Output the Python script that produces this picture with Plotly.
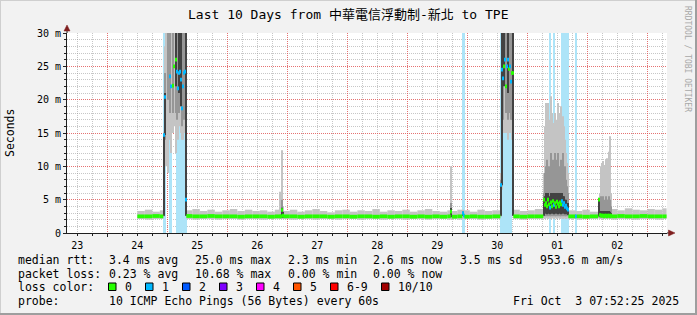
import pandas as pd
import plotly.graph_objects as go

# ---------------- data ----------------
t0 = pd.Timestamp("2025-09-24 00:00:00")          # reference for hour offsets
range_start = "2025-09-23 07:52:25"
range_end = "2025-10-03 07:52:25"
data_end_hour = 223.7

# baseline samples (no loss): hour offset, smoke min, median, smoke max (ms)
base_hours = [12.0, 15.0, 18.0, 21.0,
              31.6, 34.0, 37.0, 40.0, 43.0, 46.0, 49.0, 52.0, 55.0, 58.0, 61.0, 64.0, 67.0,
              70.4, 73.0, 76.0, 79.0, 82.0, 85.0, 88.0, 91.0, 94.0, 97.0, 100.0, 103.0, 106.0,
              109.0, 112.0, 115.0, 118.0, 121.0, 124.0, 127.0, 130.0, 133.0, 136.0,
              137.8, 140.0,
              142.8, 145.0, 148.0, 151.0, 154.0,
              162.4, 165.0, 168.0, 171.0,
              184.4, 187.8, 190.0, 193.0,
              201.6, 204.0, 207.0, 210.0, 213.0, 216.0, 219.0, 222.0]
base_lo = [2.1, 2.0, 2.1, 2.1,
           2.1, 2.0, 2.1, 2.1, 2.0, 2.1, 2.1, 2.0, 2.1, 2.1, 2.0, 2.1, 2.1,
           2.1, 2.0, 2.1, 2.1, 2.0, 2.1, 2.1, 2.0, 2.1, 2.1, 2.0, 2.1, 2.1,
           2.0, 2.1, 2.1, 2.0, 2.1, 2.1, 2.0, 2.1, 2.1, 2.0,
           2.1, 2.0,
           2.1, 2.1, 2.0, 2.1, 2.1,
           2.1, 2.0, 2.1, 2.1,
           2.1, 2.0, 2.1, 2.1,
           2.0, 2.1, 2.1, 2.0, 2.1, 2.1, 2.0, 2.1]
base_med = [2.5, 2.5, 2.55, 2.5,
            2.55, 2.5, 2.5, 2.55, 2.5, 2.5, 2.5, 2.45, 2.5, 2.5, 2.5, 2.45, 2.5,
            2.5, 2.5, 2.45, 2.5, 2.5, 2.5, 2.45, 2.5, 2.5, 2.45, 2.5, 2.5, 2.45,
            2.5, 2.45, 2.5, 2.5, 2.45, 2.5, 2.45, 2.5, 2.45, 2.5,
            2.45, 2.5,
            2.45, 2.5, 2.45, 2.45, 2.5,
            2.5, 2.45, 2.5, 2.5,
            2.5, 2.5, 2.45, 2.5,
            2.5, 2.55, 2.5, 2.5, 2.55, 2.5, 2.5, 2.5]
base_hi = [3.3, 3.5, 3.2, 3.4,
           3.4, 3.6, 3.3, 3.5, 3.2, 3.4, 3.6, 3.3, 3.5, 3.3, 3.4, 3.2, 3.5,
           3.3, 3.5, 3.2, 3.4, 3.6, 3.3, 3.1, 3.4, 3.5, 3.2, 3.4, 3.3, 3.6,
           3.2, 3.4, 3.3, 3.5, 3.2, 3.4, 3.6, 3.3, 3.2, 3.4,
           3.3, 3.5,
           3.4, 3.2, 3.5, 3.3, 3.4,
           3.5, 3.3, 3.4, 3.6,
           3.4, 3.3, 3.5, 3.2,
           3.6, 3.4, 3.7, 3.5, 3.4, 3.6, 3.5, 3.7]

# event samples: hour offset, smoke bands (outer lo/hi, mid lo/hi, dark lo/hi), median, lost pings
ev_hours = [22.4, 22.8, 23.2, 23.6, 24.0, 24.4, 24.8, 25.2, 25.6, 26.0, 26.4, 26.8, 27.2, 27.6, 28.0, 28.4, 28.8, 29.2, 29.6, 30.0, 30.4, 30.8, 31.2,
            68.8, 69.2, 69.6, 70.0,
            137.4, 142.0, 142.4,
            157.2, 157.6, 158.0, 158.4, 158.8, 159.2, 159.6, 160.0, 160.4, 160.8, 161.2, 161.6, 162.0,
            174.4, 174.8, 175.2, 175.6, 176.0, 176.4, 176.8, 177.2, 177.6, 178.0, 178.4, 178.8, 179.2, 179.6, 180.0, 180.4, 180.8, 181.2, 181.6, 182.0, 182.4, 182.8, 183.2, 183.6, 184.0,
            187.4,
            196.4, 196.8, 197.2, 197.6, 198.0, 198.4, 198.8, 199.2, 199.6, 200.0, 200.4, 200.8, 201.2]
ev_lo = [2.5, 12, 10, None, 9, None, 14, 12, None, 15, 16, None, 12, 15, 14, 16, 18, 15, 14, 14, 15, 15, 2.5,
         2.1, 2.1, 2.2, 2.1,
         2.1, 2.1, 2.1,
         2.5, 6.5, 15, 16, 15, 16, 15, 14, 15, 16, 15, 14, 2.5,
         2.2, 2.1, 2.2, 2.2, 2.1, 2.2, 2.2, 2.1, 2.2, 2.2, 2.1, 2.2, 2.2, 2.1, 2.2, 2.2, 2.1, 2.2, 2.2, 2.1, 2.2, 2.2, 2.1, 2.2, 2.2,
         2.1,
         2.3, 2.1, 2.1, 2.2, 2.1, 2.1, 2.2, 2.1, 2.1, 2.2, 2.1, 2.1, 2.1]
ev_mlo = [2.5, 14, None, None, 20, None, 18, None, None, 18, None, None, 18, 17, None, 18, 19, None, 16, 17, None, 17, 2.6,
          None, None, 2.3, None,
          2.3, None, None,
          2.5, 7, 17, None, None, 18, None, 17, 18, None, 17, 17, 2.6,
          2.5, 2.6, 2.5, 2.6, 2.5, 2.6, 2.5, 2.5, 2.6, 2.5, 2.6, 2.5, 2.5, 2.6, 2.5, 2.6, 2.5, 2.5, 2.6, 2.5, 2.6, 2.5, 2.5, 2.6, 2.5,
          None,
          2.4, 2.3, 2.3, 2.3, 2.3, 2.3, 2.3, 2.3, 2.3, 2.3, 2.3, 2.3, 2.3]
ev_dlo = [2.6, 14.7, None, None, None, None, None, None, None, None, None, None, 22, None, None, 21, None, 19, None, None, None, None, 2.6,
          None, None, 2.4, 2.3,
          2.4, 2.6, None,
          2.6, 7.2, None, 22, None, None, None, 21, None, None, None, None, 2.6,
          2.6, 2.9, 3.0, 2.8, 3.0, 2.9, 2.8, 3.0, 2.9, 3.0, 2.8, 3.0, 2.9, 3.0, 2.8, 2.9, 3.0, 2.8, 3.0, 2.9, 3.0, 2.8, 2.9, 2.8, 2.7,
          None,
          2.5, 2.4, 2.4, 2.4, 2.4, 2.4, 2.4, 2.4, 2.4, 2.4, 2.4, 2.4, 2.4]
ev_med = [14.7, 20.4, 32, None, 31, None, 23.5, 22, None, 22.1, 25, None, 26, 24.2, 21.7, 24, 24.2, 23, 18.7, 22, 24, 24.2, 5.0,
          2.5, 2.5, 3.45, 2.6,
          3.2, 3.0, 2.6,
          7.2, 24.5, 23.2, 25, 26, 22, 25, 26, 24.6, 25, 22.7, 24, 24,
          5.0, 4.2, 4.5, 4.0, 5.0, 4.3, 3.8, 4.6, 4.0, 4.8, 4.2, 4.5, 3.9, 4.7, 4.4, 4.0, 4.6, 4.3, 4.8, 4.2, 4.5, 3.9, 4.1, 3.7, 3.5,
          2.5,
          5.0, 2.7, 2.6, 2.6, 2.6, 2.5, 2.6, 2.6, 2.5, 2.6, 2.6, 2.5, 2.6]
ev_dhi = [14.7, 21, None, None, None, None, None, None, None, None, None, None, 40, None, None, 40, None, 40, None, None, None, None, 40,
          None, None, 3.8, 3.2,
          3.75, 3.2, None,
          7.2, 40, None, 40, None, None, None, 40, None, None, None, None, 40,
          5.0, 5.5, 6.0, 5.5, 6.0, 5.5, 5.0, 6.0, 5.5, 6.0, 5.5, 6.0, 5.0, 6.0, 6.0, 5.5, 6.0, 5.5, 6.0, 5.5, 5.5, 5.0, 5.0, 4.5, 4.5,
          None,
          5.0, 3.2, 3.3, 3.2, 3.3, 3.2, 3.3, 3.2, 3.3, 3.2, 3.3, 3.2, 3.0]
ev_mhi = [14.9, 24, None, None, 40, None, 32, None, None, 40, None, None, 40, 36, None, 40, 37, None, 35, 36, None, 36, 40,
          None, None, 5.0, None,
          4.5, None, None,
          8, 40, 40, None, None, 40, None, 40, 40, None, 36, 40, 40,
          6, 9, 10, 11, 9, 10, 9, 12, 10, 11, 10, 12, 9, 11, 12, 9, 10, 11, 10, 12, 9, 10, 8, 7, 6,
          None,
          5.1, 4.2, 5.5, 5.0, 5.5, 5.0, 4.5, 5.5, 5.0, 5.0, 5.5, 5.0, 4.0]
ev_hi = [15.2, 28, 40, None, 40, None, 40, 40, None, 40, 40, None, 40, 40, 40, 40, 40, 40, 40, 40, 40, 40, 40,
         6.2, 3.4, 12.4, 4.0,
         10.0, 3.5, 3.3,
         9, 40, 40, 40, 40, 40, 40, 40, 40, 40, 40, 40, 40,
         9, 16, 19.5, 18, 19.5, 17, 15, 20.5, 18, 16, 16.5, 18, 15, 17, 19.5, 18, 16, 19, 17, 17.5, 16, 14, 12, 10.5, 9,
         3.3,
         5.3, 6.0, 10.0, 10.5, 10.8, 10.2, 9.5, 11.0, 11.2, 10.0, 12.2, 14.5, 6.0]
ev_loss = [1, 1, 0, None, 0, None, 1, 1, None, 0, 0, None, 0, 1, 1, 1, 1, 1, 1, 1, 1, 1, 1,
           0, 0, 0, 0,
           0, 1, 1,
           1, 1, 1, 0, 1, 0, 1, 1, 0, 1, 1, 0, 0,
           0, 0, 0, 0, 0, 0, 1, 0, 0, 0, 1, 0, 0, 0, 0, 0, 0, 0, 1, 1, 1, 1, 1, 1, 1,
           1,
           0, 0, 0, 0, 0, 0, 0, 0, 0, 0, 0, 0, 0]

y_tickvals = [0, 5, 10, 15, 20, 25, 30]
y_ticktext = ["0", "5 m", "10 m", "15 m", "20 m", "25 m", "30 m"]

loss_labels = ["0", "1", "2", "3", "4", "5", "6-9", "10/10"]
loss_colors = ["#26ff00", "#00b8ff", "#0059ff", "#7e00ff", "#ff00ff", "#ff5500", "#ff0000", "#a10000"]

rtt_stats = ["3.4 ms avg", "25.0 ms max", "2.3 ms min", "2.6 ms now", "3.5 ms sd", "953.6 m am/s"]
loss_stats = ["0.23 % avg", "10.68 % max", "0.00 % min", "0.00 % now"]
title_text = "Last 10 Days from 中華電信浮動制-新北 to TPE"
probe_text = "10 ICMP Echo Pings (56 Bytes) every 60s"
stamp_text = "Fri Oct\u00a0\u00a03 07:52:25 2025"

for arr in (ev_lo, ev_mlo, ev_dlo, ev_med, ev_dhi, ev_mhi, ev_hi, ev_loss):
    assert len(arr) == len(ev_hours), len(arr)
for arr in (base_lo, base_med, base_hi):
    assert len(arr) == len(base_hours), len(arr)

# ---------------- assemble records ----------------
rows = []
for i, h in enumerate(base_hours):
    rows.append(dict(h=h, lo=base_lo[i], mlo=None, dlo=None, med=base_med[i],
                     dhi=None, mhi=None, hi=base_hi[i], loss=0))
for i, h in enumerate(ev_hours):
    rows.append(dict(h=h, lo=ev_lo[i], mlo=ev_mlo[i], dlo=ev_dlo[i], med=ev_med[i],
                     dhi=ev_dhi[i], mhi=ev_mhi[i], hi=ev_hi[i], loss=ev_loss[i]))
rows.sort(key=lambda r: r["h"])
for k, r in enumerate(rows):
    nxt = rows[k + 1]["h"] if k + 1 < len(rows) else data_end_hour
    r["w"] = nxt - r["h"]


def center(r):
    return t0 + pd.Timedelta(hours=r["h"] + r["w"] / 2)


def band(lo_key, hi_key, color):
    xs, bases, ys, ws = [], [], [], []
    for r in rows:
        if r[lo_key] is None or r[hi_key] is None:
            continue
        xs.append(center(r))
        bases.append(r[lo_key])
        ys.append(r[hi_key] - r[lo_key])
        ws.append(r["w"] * 3600000)
    return go.Bar(x=xs, y=ys, base=bases, width=ws,
                  marker=dict(color=color, line=dict(width=0)),
                  hoverinfo="skip", showlegend=False)


def loss_index(n):
    if n <= 5:
        return n
    if n < 10:
        return 6
    return 7


fig = go.Figure()

# loss background bands
lx, lw = [], []
for r in rows:
    if r["loss"]:
        lx.append(center(r))
        lw.append(r["w"] * 3600000)
fig.add_trace(go.Bar(x=lx, y=[30] * len(lx), base=[0] * len(lx), width=lw,
                     marker=dict(color="#ade4f8", line=dict(width=0)),
                     hoverinfo="skip", showlegend=False))

# smoke
fig.add_trace(band("lo", "hi", "#c4c4c4"))
fig.add_trace(band("mlo", "mhi", "#969696"))
fig.add_trace(band("dlo", "dhi", "#424242"))

# median coloured by loss
mx, mb, mw, mc = [], [], [], []
for r in rows:
    if r["med"] is None:
        continue
    mx.append(center(r))
    mb.append(r["med"] - 0.28)
    mw.append(r["w"] * 3600000)
    mc.append(loss_colors[loss_index(r["loss"] or 0)])
fig.add_trace(go.Bar(x=mx, y=[0.56] * len(mx), base=mb, width=mw,
                     marker=dict(color=mc, line=dict(width=0)),
                     hoverinfo="skip", showlegend=False))

# ---------------- layout ----------------
L, R, T, B = 67, 667, 33, 233


def px(x):
    return (x - L) / (R - L)


def py(y):
    return (B - y) / (B - T)


MONO = "DejaVu Sans Mono"
GRID = "rgba(143,143,143,0.5)"
MGRID = "rgba(222,79,79,0.8)"
AXIS = "#1f1f1f"

# minor grid positions (6 h on x, 1 ms on y), skipping the major ones
x_minor = [d for d in pd.date_range("2025-09-23 12:00", "2025-10-03 06:00", freq="6h") if d.hour != 0]
y_minor = [v for v in range(0, 31) if v % 5]

fig.update_layout(
    width=697, height=315, autosize=False,
    margin=dict(l=L, r=697 - R, t=T, b=315 - B, pad=0),
    paper_bgcolor="#f2f2f2", plot_bgcolor="#ffffff",
    barmode="overlay", showlegend=False,
    font=dict(family=MONO, size=11.5, color="#000000"),
    xaxis=dict(type="date", range=[range_start, range_end], tick0="2025-09-24",
               dtick=86400000, tickformat="%d", ticklabelmode="period",
               showgrid=True, gridcolor=MGRID, griddash="1px,1px", gridwidth=1,
               ticks="outside", ticklen=3, tickcolor=AXIS,
               showline=True, linecolor=AXIS, linewidth=1, zeroline=False,
               tickfont=dict(family=MONO, size=10, color="#000"),
               minor=dict(tickmode="array", tickvals=x_minor, showgrid=True,
                          gridcolor=GRID, griddash="1px,1px", ticks="outside",
                          ticklen=2, tickcolor=AXIS),
               fixedrange=True),
    yaxis=dict(range=[0, 30], tickmode="array", tickvals=y_tickvals, ticktext=y_ticktext,
               showgrid=True, gridcolor=MGRID, griddash="1px,1px", gridwidth=1,
               ticks="outside", ticklen=3, tickcolor=AXIS,
               showline=True, linecolor=AXIS, linewidth=1, zeroline=False,
               tickfont=dict(family=MONO, size=10, color="#000"),
               minor=dict(tickmode="array", tickvals=y_minor, showgrid=True,
                          gridcolor=GRID, griddash="1px,1px", ticks="outside",
                          ticklen=2, tickcolor=AXIS),
               fixedrange=True),
)

shapes = []
# 3D frame
shapes.append(dict(type="rect", xref="paper", yref="paper", x0=px(0), x1=px(697), y0=py(0), y1=py(1),
                   fillcolor="#cfcfcf", line=dict(width=0), layer="above"))
shapes.append(dict(type="rect", xref="paper", yref="paper", x0=px(0), x1=px(1), y0=py(0), y1=py(315),
                   fillcolor="#cfcfcf", line=dict(width=0), layer="above"))
shapes.append(dict(type="rect", xref="paper", yref="paper", x0=px(695), x1=px(697), y0=py(0), y1=py(315),
                   fillcolor="#9e9e9e", line=dict(width=0), layer="above"))
shapes.append(dict(type="rect", xref="paper", yref="paper", x0=px(0), x1=px(697), y0=py(313), y1=py(315),
                   fillcolor="#9e9e9e", line=dict(width=0), layer="above"))
# axis extensions and arrows
shapes.append(dict(type="line", xref="paper", yref="paper", x0=px(R), x1=px(670), y0=0, y1=0,
                   line=dict(color=AXIS, width=1)))
shapes.append(dict(type="line", xref="paper", yref="paper", x0=0, x1=0, y0=1, y1=py(29),
                   line=dict(color=AXIS, width=1)))
ARROW = "#7f1f1f"
shapes.append(dict(type="path", xref="paper", yref="paper",
                   path=f"M {px(668.5)} {py(230)} L {px(668.5)} {py(236)} L {px(675)} {py(233)} Z",
                   fillcolor=ARROW, line=dict(color=ARROW, width=0.5)))
shapes.append(dict(type="path", xref="paper", yref="paper",
                   path=f"M {px(64)} {py(31)} L {px(70)} {py(31)} L {px(67)} {py(25)} Z",
                   fillcolor=ARROW, line=dict(color=ARROW, width=0.5)))

annotations = []


def text(x, y, s, anchor="left", size=11.5, color="#000", family=MONO, angle=0):
    annotations.append(dict(x=px(x), y=py(y), xref="paper", yref="paper", text=s,
                            showarrow=False, xanchor=anchor, yanchor="middle",
                            textangle=angle,
                            font=dict(family=family, size=size, color=color)))


text(348.5, 14, title_text, anchor="center", size=13,
     family="DejaVu Sans Mono, Noto Sans CJK TC")
text(10, 133, "Seconds", anchor="center", size=11.5, angle=-90)
text(688, 59, "RRDTOOL / TOBI OETIKER", anchor="center", size=8, color="#a8a8a8",
     family=MONO, angle=90)

row_y = [260, 273.5, 287, 300.5]
col_x = [107, 193, 285.5, 371.5, 458, 537.5]
text(15.5, row_y[0], "median rtt:")
for s, x in zip(rtt_stats, col_x):
    text(x, row_y[0], s)
text(15.5, row_y[1], "packet loss:")
for s, x in zip(loss_stats, col_x):
    text(x, row_y[1], s)
text(15.5, row_y[2], "loss color:")
box_x = [108.5, 145.5, 182.5, 219.5, 256.5, 293.5, 330.5, 381.5]
for lab, col, x in zip(loss_labels, loss_colors, box_x):
    shapes.append(dict(type="rect", xref="paper", yref="paper", x0=px(x), x1=px(x + 7.5),
                       y0=py(283), y1=py(290.5), fillcolor=col,
                       line=dict(color="#000000", width=1)))
    text(x + 14, row_y[2], lab)
text(15.5, row_y[3], "probe:")
text(107, row_y[3], probe_text)
text(680.5, row_y[3], stamp_text, anchor="right")

fig.update_layout(shapes=shapes, annotations=annotations)
fig.write_html("out.html")
